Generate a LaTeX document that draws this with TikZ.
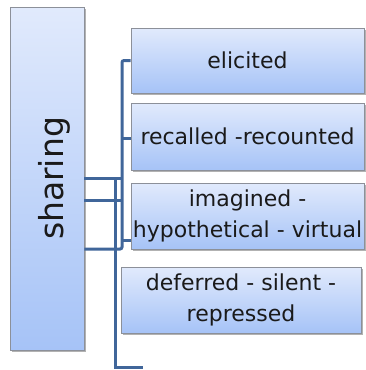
\documentclass[tikz,border=0pt]{standalone}
\usepackage{fontspec}
\setmainfont{DejaVu Sans}
\usetikzlibrary{shadows}

\definecolor{boxtop}{HTML}{E1EAFC}
\definecolor{boxbot}{HTML}{A6C3F7}
\definecolor{boxline}{HTML}{8C9099}
\definecolor{wirecol}{HTML}{40669A}
\definecolor{inkcol}{HTML}{1A1A1A}

\begin{document}
\begin{tikzpicture}[x=1pt,y=-1pt,
  card/.style={draw=boxline, line width=0.8pt, top color=boxtop, bottom color=boxbot,
    drop shadow={shadow xshift=1.5pt, shadow yshift=-1.5pt, opacity=0.3, fill=black},
    inner sep=0pt, text=inkcol, align=center, font=\fontsize{22}{31}\selectfont},
  wire/.style={draw=wirecol, line width=3pt}]

\useasboundingbox (0,0) rectangle (365,370);

% root block and its label
\node[card, minimum width=74pt, minimum height=343pt] (sharing) at (47,178.5) {};
\node[rotate=90, text=inkcol, font=\fontsize{33}{40}\selectfont, inner sep=0pt] (sharinglabel) at (54,178.5) {sharing};

% child blocks
\node[card, minimum width=233pt, minimum height=65pt] (elicited) at (247.5,60.5) {elicited};
\node[card, minimum width=233pt, minimum height=67pt] (recalled) at (247.5,136.5) {recalled -recounted};
\node[card, minimum width=233pt, minimum height=66pt] (imagined) at (247.5,216) {imagined -\\hypothetical - virtual};
\node[card, minimum width=240pt, minimum height=66pt] (deferred) at (241,300) {deferred - silent -\\repressed};

% connectors
\coordinate (tail) at (143,367);
\draw[wire, rounded corners=2pt] (elicited.west) -| (122,249) -- (sharing.east |- 0,249);
\draw[wire] (recalled.west |- 0,138) -- (122,138);
\draw[wire] (imagined.west |- 0,240) -- (122,240);
\draw[wire] (sharing.east |- 0,178) -- (122,178);
\draw[wire] (sharing.east |- 0,200) -- (122,200);
\draw[wire] (115,178) -- (115,367) -- (tail);
\end{tikzpicture}
\end{document}
